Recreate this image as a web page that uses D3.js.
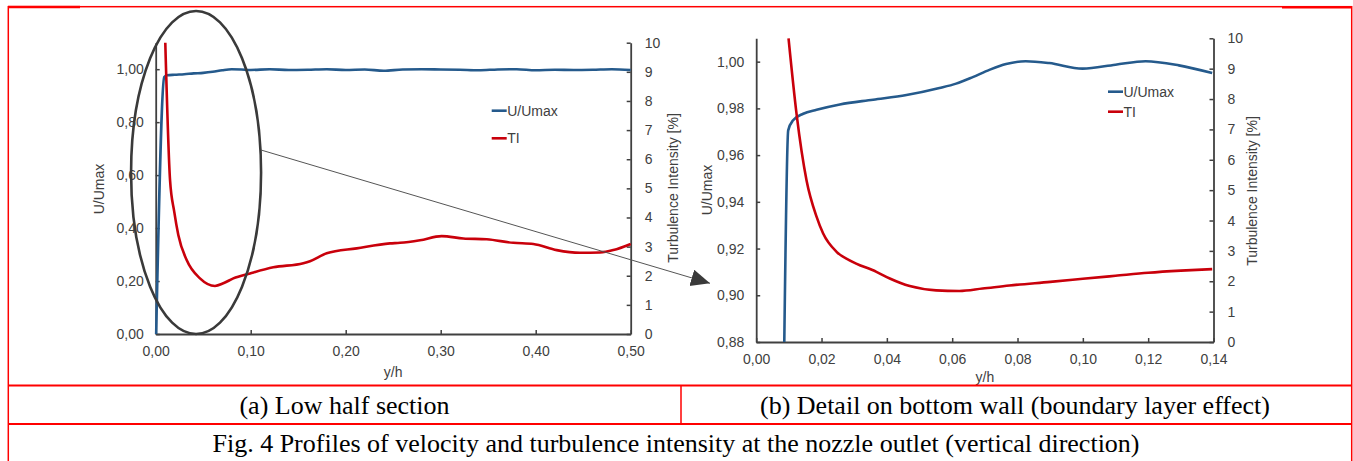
<!DOCTYPE html>
<html>
<head>
<meta charset="utf-8">
<script src="https://cdn.jsdelivr.net/npm/d3@7"></script>
<style>
  body { margin: 0; background: #fff; }
  svg { display: block; font-family: "Liberation Sans", Arial, sans-serif; }
</style>
</head>
<body>
<div id="fig"></div>
<script>
// ---- data: [y/h, value] ----
const uLow = [[0.0005,0],[0.009,0.97],[0.012,0.977],[0.02,0.979],[0.03,0.981],[0.04,0.984],[0.05,0.986],
  [0.06,0.99],[0.07,0.996],[0.08,1.0],[0.09,0.999],[0.10,0.997],[0.12,1.0],[0.14,0.997],[0.16,0.998],
  [0.18,1.0],[0.20,0.997],[0.22,0.999],[0.24,0.994],[0.26,0.999],[0.28,1.0],[0.30,0.999],[0.32,0.998],
  [0.34,0.996],[0.36,0.999],[0.38,1.0],[0.40,0.996],[0.42,0.998],[0.44,0.997],[0.46,0.998],[0.48,1.0],[0.50,0.997]];
const tiLow = [[0.0101,10],[0.0151,5.28],[0.0195,4.2],[0.0238,3.4],[0.0326,2.54],[0.0466,1.91],[0.0624,1.65],
  [0.0712,1.74],[0.0817,1.91],[0.0993,2.08],[0.1238,2.29],[0.1554,2.43],[0.1624,2.50],[0.18,2.77],[0.2116,2.94],
  [0.2466,3.11],[0.2572,3.13],[0.2782,3.22],[0.301,3.36],[0.3238,3.28],[0.3484,3.25],[0.3764,3.13],[0.3975,3.09],
  [0.4221,2.88],[0.4466,2.79],[0.4677,2.80],[0.4817,2.88],[0.50,3.09]];
const uWall = [[0.0086,0.88],[0.0098,0.9706],[0.0113,0.9749],[0.0144,0.9777],[0.0185,0.9794],[0.0256,0.9817],
  [0.0358,0.9837],[0.046,0.9857],[0.0561,0.9887],[0.0612,0.9906],[0.0663,0.9934],[0.0714,0.9965],[0.0765,0.999],
  [0.0825,1.0002],[0.0897,0.9994],[0.0999,0.997],[0.110,0.9987],[0.1192,1.0002],[0.1294,0.9984],[0.1396,0.9951]];
const tiWall = [[0.0099,10],[0.0124,7.47],[0.0154,5.33],[0.0185,4.12],[0.0205,3.57],[0.0246,2.97],[0.0286,2.69],
  [0.0368,2.31],[0.0409,2.09],[0.047,1.84],[0.0551,1.70],[0.0622,1.68],[0.0693,1.76],[0.0775,1.86],[0.09,1.98],
  [0.10,2.08],[0.11,2.18],[0.12,2.28],[0.13,2.35],[0.1396,2.40]];

const xTicksLow = [0, 0.1, 0.2, 0.3, 0.4, 0.5];
const uTicksLow = [0, 0.2, 0.4, 0.6, 0.8, 1.0];
const xTicksWall = [0, 0.02, 0.04, 0.06, 0.08, 0.10, 0.12, 0.14];
const uTicksWall = [0.88, 0.90, 0.92, 0.94, 0.96, 0.98, 1.00];
const tiTicks = [0, 1, 2, 3, 4, 5, 6, 7, 8, 9, 10];
const seriesNames = ["U/Umax", "TI"];
const seriesColors = ["#255a8c", "#c9000b"];
const captions = ["(a) Low half section", "(b) Detail on bottom wall (boundary layer effect)"];
const figTitle = "Fig. 4 Profiles of velocity and turbulence intensity at the nozzle outlet (vertical direction)";

const W = 1353, H = 461;
const axisColor = "#404040";
const svg = d3.select("#fig").append("svg").attr("width", W).attr("height", H);
const comma = v => d3.format(".2f")(v).replace(".", ",");

function styleAxis(a) {
  a.attr("font-family", null).attr("font-size", null);
  a.select(".domain").attr("stroke", axisColor).attr("stroke-width", 1.8);
  a.selectAll(".tick line").attr("stroke", axisColor).attr("stroke-width", 1.5);
  a.selectAll(".tick text").attr("fill", axisColor).attr("font-size", "14px");
}

function drawPanel(p) {
  const x = d3.scaleLinear().domain(p.xDomain).range([p.left, p.right]);
  const yU = d3.scaleLinear().domain(p.uDomain).range([p.bottom, p.top]);
  const yT = d3.scaleLinear().domain([0, 10]).range([p.bottom, p.top]);
  const g = svg.append("g");

  g.append("g").attr("transform", `translate(0,${p.bottom})`)
    .call(d3.axisBottom(x).tickValues(p.xTicks).tickFormat(comma)
      .tickSizeInner(-4).tickSizeOuter(0).tickPadding(12))
    .call(styleAxis);
  g.append("g").attr("transform", `translate(${p.left},0)`)
    .call(d3.axisLeft(yU).tickValues(p.uTicks).tickFormat(comma)
      .tickSizeInner(-4).tickSizeOuter(0).tickPadding(12))
    .call(styleAxis);
  g.append("g").attr("transform", `translate(${p.right},0)`)
    .call(d3.axisRight(yT).tickValues(tiTicks).tickFormat(d3.format("d"))
      .tickSizeInner(-4).tickSizeOuter(0).tickPadding(14))
    .call(styleAxis);

  const lineU = d3.line().x(d => x(d[0])).y(d => yU(d[1])).curve(d3.curveMonotoneX);
  const lineT = d3.line().x(d => x(d[0])).y(d => yT(d[1])).curve(d3.curveMonotoneX);
  g.append("path").datum(p.u).attr("fill", "none").attr("stroke", seriesColors[0])
    .attr("stroke-width", 2.6).attr("d", lineU);
  g.append("path").datum(p.ti).attr("fill", "none").attr("stroke", seriesColors[1])
    .attr("stroke-width", 2.6).attr("d", lineT);

  // axis titles
  const midX = (p.left + p.right) / 2;
  g.append("text").attr("x", midX).attr("y", p.bottom + p.xTitleDy)
    .attr("text-anchor", "middle").attr("fill", axisColor).attr("font-size", "14px").text("y/h");
  g.append("text").attr("transform", `translate(${p.left - p.uTitleDx},${p.uTitleY}) rotate(-90)`)
    .attr("text-anchor", "middle").attr("fill", axisColor).attr("font-size", "14px").text("U/Umax");
  g.append("text").attr("transform", `translate(${p.right + p.tiTitleDx},${p.tiTitleY}) rotate(-90)`)
    .attr("text-anchor", "middle").attr("fill", axisColor).attr("font-size", "14px").text("Turbulence Intensity [%]");

  // legend
  const leg = g.selectAll(".leg").data(seriesNames).enter().append("g")
    .attr("transform", (d, i) => `translate(${p.legX},${p.legY + i * p.legGap})`);
  leg.append("line").attr("x1", 0).attr("x2", 15).attr("stroke", (d, i) => seriesColors[i]).attr("stroke-width", 2.6);
  leg.append("text").attr("x", 15.5).attr("dy", "0.36em").attr("fill", axisColor)
    .attr("font-size", "14px").text(d => d);
  return { x, yU, yT };
}

const low = drawPanel({
  left: 155.7, right: 630.7, top: 42.7, bottom: 334,
  xDomain: [0, 0.5], uDomain: [0, 1.1], xTicks: xTicksLow, uTicks: uTicksLow,
  u: uLow, ti: tiLow,
  xTitleDy: 43, uTitleDx: 52, uTitleY: 189, tiTitleDx: 47, tiTitleY: 188,
  legX: 491.7, legY: 110.7, legGap: 27.6
});
drawPanel({
  left: 756.2, right: 1213.5, top: 38.3, bottom: 342,
  xDomain: [0, 0.14], uDomain: [0.88, 1.01], xTicks: xTicksWall, uTicks: uTicksWall,
  u: uWall, ti: tiWall,
  xTitleDy: 40, uTitleDx: 44, uTitleY: 190, tiTitleDx: 43, tiTitleY: 191,
  legX: 1108, legY: 91.7, legGap: 20
});

// zoom annotation: ellipse around the wall region + arrow to panel (b)
svg.append("ellipse").attr("cx", low.x(0.0425)).attr("cy", 172.5).attr("rx", 65).attr("ry", 161.5)
  .attr("fill", "none").attr("stroke", "#3a3a3a").attr("stroke-width", 2.6);
svg.append("defs").append("marker").attr("id", "arrow").attr("markerUnits", "userSpaceOnUse")
  .attr("markerWidth", 20).attr("markerHeight", 18).attr("refX", 19).attr("refY", 8.5).attr("orient", "auto")
  .append("path").attr("d", "M0,0 L19,8.5 L0,17 Z").attr("fill", "#3a3a3a");
svg.append("line").attr("x1", 261).attr("y1", 150).attr("x2", 710).attr("y2", 283.3)
  .attr("stroke", "#555").attr("stroke-width", 1).attr("marker-end", "url(#arrow)");

// table frame
const red = "#ff0000";
const frame = svg.append("g").attr("stroke", red).attr("fill", "none");
frame.append("rect").attr("x", 8.3).attr("y", 6.7).attr("width", 1343.4).attr("height", 460).attr("stroke-width", 1.5);
frame.append("line").attr("x1", 8.3).attr("x2", 1351.7).attr("y1", 385.5).attr("y2", 385.5).attr("stroke-width", 1.8);
frame.append("line").attr("x1", 8.3).attr("x2", 1351.7).attr("y1", 424).attr("y2", 424).attr("stroke-width", 1.8);
frame.append("line").attr("x1", 681).attr("x2", 681).attr("y1", 385.5).attr("y2", 424).attr("stroke-width", 1.5);
frame.append("line").attr("x1", 8).attr("x2", 80).attr("y1", 7).attr("y2", 7).attr("stroke-width", 2.5);
frame.append("line").attr("x1", 1282).attr("x2", 1352).attr("y1", 7.2).attr("y2", 7.2).attr("stroke-width", 2.5);

// captions
const capFont = '"Liberation Serif", "Times New Roman", serif';
svg.append("text").attr("x", 344.5).attr("y", 414).attr("text-anchor", "middle")
  .attr("font-family", capFont).attr("font-size", "26px").attr("fill", "#000").text(captions[0]);
svg.append("text").attr("x", 1015).attr("y", 414).attr("text-anchor", "middle")
  .attr("font-family", capFont).attr("font-size", "26px").attr("fill", "#000").text(captions[1]);
svg.append("text").attr("x", 676).attr("y", 452).attr("text-anchor", "middle")
  .attr("font-family", capFont).attr("font-size", "26px").attr("fill", "#000").text(figTitle);
</script>
</body>
</html>
